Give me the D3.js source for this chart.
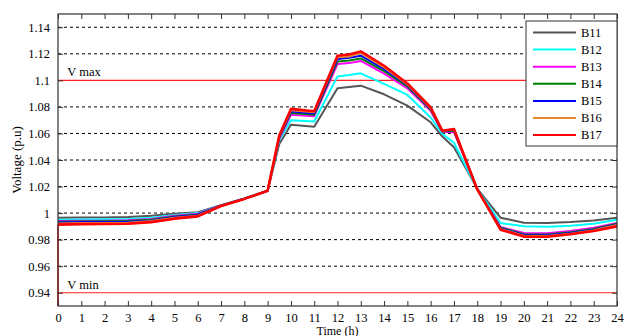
<!DOCTYPE html>
<html>
<head>
<meta charset="utf-8">
<script src="https://cdn.jsdelivr.net/npm/d3@7"></script>
<style>
  body { margin: 0; background: #fff; }
  svg { display: block; }
  svg text { font-family: "Liberation Serif", "Times New Roman", serif; }
</style>
</head>
<body>
<div id="chart"></div>
<script>
// hours of the day where values were read
var hours = [0, 1, 2, 3, 4, 5, 6, 7, 8, 9, 9.5, 10, 11, 12, 12.5, 13, 14, 15, 16, 16.5, 17, 18, 19, 20, 21, 22, 23, 24];

var B11 = [0.9965, 0.9966, 0.9967, 0.997, 0.998, 0.9995, 1.0007, 1.006, 1.011, 1.0168, 1.052, 1.0665, 1.065, 1.094, 1.095, 1.096, 1.0895, 1.081, 1.0684, 1.0577, 1.0496, 1.0185, 0.9965, 0.9928, 0.9925, 0.9932, 0.9945, 0.9965];
var B12 = [0.995, 0.9952, 0.9953, 0.9955, 0.9965, 0.9985, 1.0, 1.0058, 1.011, 1.0168, 1.055, 1.070, 1.069, 1.103, 1.104, 1.1053, 1.0973, 1.089, 1.072, 1.0597, 1.053, 1.0182, 0.9925, 0.990, 0.9898, 0.9905, 0.992, 0.995];
var B13 = [0.994, 0.9942, 0.9943, 0.9946, 0.9955, 0.998, 0.9995, 1.0057, 1.0109, 1.0168, 1.056, 1.074, 1.073, 1.1123, 1.113, 1.1146, 1.105, 1.094, 1.077, 1.0612, 1.061, 1.018, 0.9895, 0.985, 0.9848, 0.9865, 0.989, 0.9925];
var B14 = [0.9935, 0.9937, 0.9938, 0.994, 0.995, 0.9975, 0.999, 1.0056, 1.0108, 1.0168, 1.057, 1.0755, 1.074, 1.1143, 1.115, 1.1165, 1.107, 1.0955, 1.078, 1.0615, 1.062, 1.018, 0.989, 0.984, 0.9838, 0.9855, 0.988, 0.992];
var B15 = [0.993, 0.9932, 0.9933, 0.9935, 0.9945, 0.997, 0.9986, 1.0055, 1.0108, 1.0168, 1.0575, 1.0765, 1.075, 1.116, 1.117, 1.1186, 1.1085, 1.0965, 1.0785, 1.0617, 1.0628, 1.0179, 0.9885, 0.9835, 0.9833, 0.985, 0.9875, 0.9915];
var B16 = [0.9922, 0.9925, 0.9926, 0.9928, 0.994, 0.9965, 0.998, 1.0054, 1.0107, 1.0168, 1.058, 1.0775, 1.076, 1.1175, 1.118, 1.1205, 1.1097, 1.097, 1.079, 1.0619, 1.0631, 1.0178, 0.988, 0.983, 0.9828, 0.9845, 0.987, 0.991];
var B17 = [0.9913, 0.9917, 0.9918, 0.992, 0.9932, 0.9958, 0.9975, 1.0053, 1.0107, 1.0168, 1.0585, 1.0785, 1.0767, 1.1186, 1.1195, 1.1218, 1.111, 1.0977, 1.0797, 1.062, 1.0634, 1.0178, 0.9875, 0.9823, 0.9822, 0.984, 0.9865, 0.990];

var seriesNames  = ["B11", "B12", "B13", "B14", "B15", "B16", "B17"];
var seriesValues = [B11, B12, B13, B14, B15, B16, B17];
var seriesColors = ["#555555", "#00ffff", "#ff00ff", "#008000", "#0000ff", "#e8892c", "#ff0000"];

var xTicks = d3.range(0, 25);
var yTicks = [0.94, 0.96, 0.98, 1, 1.02, 1.04, 1.06, 1.08, 1.1, 1.12, 1.14];
var limits = [{ name: "V max", value: 1.1 }, { name: "V min", value: 0.94 }];

var FONT = "'Liberation Serif', 'Times New Roman', serif";

var W = 624, H = 336;
var margin = { top: 14, right: 7, bottom: 30, left: 58 };
var width  = W - margin.left - margin.right,
    height = H - margin.top - margin.bottom;

var svg = d3.select("#chart").append("svg")
    .attr("width", W)
    .attr("height", H)
    .attr("font-family", FONT);

var g = svg.append("g")
    .attr("transform", "translate(" + margin.left + "," + margin.top + ")");

var x = d3.scaleLinear().domain([0, 24]).range([0, width]);
var y = d3.scaleLinear().domain([0.93, 1.15]).range([height, 0]);

// dashed grid at the y ticks (not under the limit lines)
g.selectAll(".grid")
    .data(yTicks.filter(d => d !== 1.1 && d !== 0.94))
    .enter().append("line")
    .attr("x1", 0).attr("x2", width)
    .attr("y1", d => y(d)).attr("y2", d => y(d))
    .attr("stroke", "#000")
    .attr("stroke-width", 1)
    .attr("stroke-dasharray", "3,3");

// limit lines
g.selectAll(".limit")
    .data(limits)
    .enter().append("line")
    .attr("x1", 0).attr("x2", width)
    .attr("y1", d => y(d.value)).attr("y2", d => y(d.value))
    .attr("stroke", "#ff2020")
    .attr("stroke-width", 1.2);

g.selectAll(".limitLabel")
    .data(limits)
    .enter().append("text")
    .attr("x", x(0.4))
    .attr("y", d => y(d.value) - 4)
    .attr("font-family", FONT)
    .attr("font-size", 12.5)
    .text(d => d.name);

// curves
var line = d3.line()
    .x((d, i) => x(hours[i]))
    .y(d => y(d));

g.selectAll(".curve")
    .data(seriesValues)
    .enter().append("path")
    .attr("d", d => line(d))
    .attr("fill", "none")
    .attr("stroke", (d, i) => seriesColors[i])
    .attr("stroke-width", (d, i) => i === 6 ? 2.6 : 2)
    .attr("stroke-linejoin", "round");

// red drop at the start of B17
g.append("line")
    .attr("x1", x(0)).attr("x2", x(0))
    .attr("y1", y(B17[0])).attr("y2", y(0.93))
    .attr("stroke", "#ff0000")
    .attr("stroke-width", 1.5);

// axes, ticks pointing inward on all four sides
var axisColor = "#333";
function styleAxis(sel) {
    sel.attr("font-family", FONT);
    sel.select(".domain").remove();
    sel.selectAll(".tick line").attr("stroke", axisColor);
    sel.selectAll(".tick text").attr("font-family", FONT).attr("font-size", 12.5).attr("fill", "#000");
}

g.append("g")
    .attr("transform", "translate(0," + height + ")")
    .call(d3.axisBottom(x).tickValues(xTicks).tickFormat(d3.format("d")).tickSizeInner(-5).tickPadding(7))
    .call(styleAxis);

g.append("g")
    .call(d3.axisTop(x).tickValues(xTicks).tickFormat("").tickSizeInner(-5))
    .call(styleAxis);

g.append("g")
    .call(d3.axisLeft(y).tickValues(yTicks).tickFormat(d => String(+d.toFixed(2))).tickSizeInner(-5).tickPadding(8))
    .call(styleAxis);

g.append("g")
    .attr("transform", "translate(" + width + ",0)")
    .call(d3.axisRight(y).tickValues(yTicks).tickFormat("").tickSizeInner(-5))
    .call(styleAxis);

g.append("rect")
    .attr("width", width).attr("height", height)
    .attr("fill", "none")
    .attr("stroke", axisColor)
    .attr("stroke-width", 1.2);

// axis titles
svg.append("text")
    .attr("x", margin.left + width / 2)
    .attr("y", H - 1.5)
    .attr("text-anchor", "middle")
    .attr("font-family", FONT)
    .attr("font-size", 12)
    .text("Time (h)");

svg.append("text")
    .attr("transform", "translate(21," + (margin.top + height / 2) + ") rotate(-90)")
    .attr("text-anchor", "middle")
    .attr("font-family", FONT)
    .attr("font-size", 13)
    .text("Voltage (p.u)");

// legend
var legend = g.append("g")
    .attr("transform", "translate(" + (width - 91) + ",7)");

legend.append("rect")
    .attr("width", 91).attr("height", 125)
    .attr("fill", "#fff")
    .attr("stroke", axisColor)
    .attr("stroke-width", 1);

var item = legend.selectAll(".item")
    .data(seriesNames)
    .enter().append("g")
    .attr("transform", (d, i) => "translate(0," + (11.5 + i * 17.1) + ")");

item.append("line")
    .attr("x1", 7).attr("x2", 50)
    .attr("stroke", (d, i) => seriesColors[i])
    .attr("stroke-width", 2);

item.append("text")
    .attr("x", 55)
    .attr("dy", "0.35em")
    .attr("font-family", FONT)
    .attr("font-size", 12.5)
    .text(d => d);
</script>
</body>
</html>
